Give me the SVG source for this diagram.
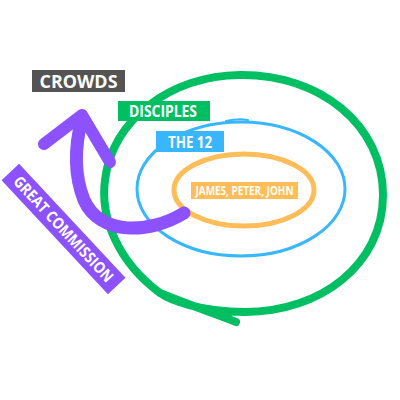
<svg xmlns="http://www.w3.org/2000/svg" width="400" height="400" viewBox="0 0 400 400">
<style>
.lbl{font-family:"Open Sans","Liberation Sans",sans-serif;font-weight:bold;fill:#fff;text-anchor:middle}
.ring{fill:none;stroke-linecap:round;stroke-linejoin:round}
</style>
<rect width="400" height="400" fill="#fff"/>
<g id="connectors">
<path class="ring" d="M236 322 C215 314 190 305 160 293 C118 262 100 218 105 180 C112 120 170 76 240 75 C320 74 383 125 383 195 C383 265 320 312 245 312 C200 312 170 300 160 293" stroke="#00bf63" stroke-width="8"/>
<ellipse class="ring" cx="241" cy="189" rx="104" ry="67" stroke="#38b6ff" stroke-width="3"/>
<path class="ring" d="M226 121 C235 119 242 119 248 120" stroke="#38b6ff" stroke-width="2"/>
<ellipse class="ring" cx="244" cy="190" rx="70" ry="36" stroke="#ffbd59" stroke-width="5"/>
<path class="ring" d="M184 213 C150 234 100 236 84 200 C74 175 75 145 82 118" stroke="#8c52ff" stroke-width="13"/>
<path class="ring" d="M44 144 L82 115 L110 162" stroke="#8c52ff" stroke-width="12"/>
</g>
<g id="crowds">
<rect x="32" y="70" width="93" height="22" fill="#545454"/>
<text class="lbl" x="78.5" y="87.5" font-size="17" textLength="78" lengthAdjust="spacingAndGlyphs">CROWDS</text>
</g>
<g id="disciples">
<rect x="118" y="101" width="92" height="20" fill="#00bf63"/>
<text class="lbl" x="163" y="117" font-size="15.5" textLength="68" lengthAdjust="spacingAndGlyphs">DISCIPLES</text>
</g>
<g id="the12">
<rect x="156" y="131" width="68" height="21" fill="#38b6ff"/>
<text class="lbl" x="190" y="147.5" font-size="15.5" textLength="44" lengthAdjust="spacingAndGlyphs">THE 12</text>
</g>
<g id="jpj">
<rect x="191" y="182" width="107" height="17" fill="#ffbd59"/>
<text class="lbl" x="244.5" y="195" font-size="11.5" textLength="98" lengthAdjust="spacingAndGlyphs">JAMES, PETER, JOHN</text>
</g>
<g id="great-commission" transform="translate(63.5 229) rotate(47)">
<rect x="-78" y="-12" width="156" height="24" fill="#8c52ff"/>
<text class="lbl" x="0" y="5.5" font-size="15.5" textLength="138" lengthAdjust="spacingAndGlyphs">GREAT COMMISSION</text>
</g>
</svg>
